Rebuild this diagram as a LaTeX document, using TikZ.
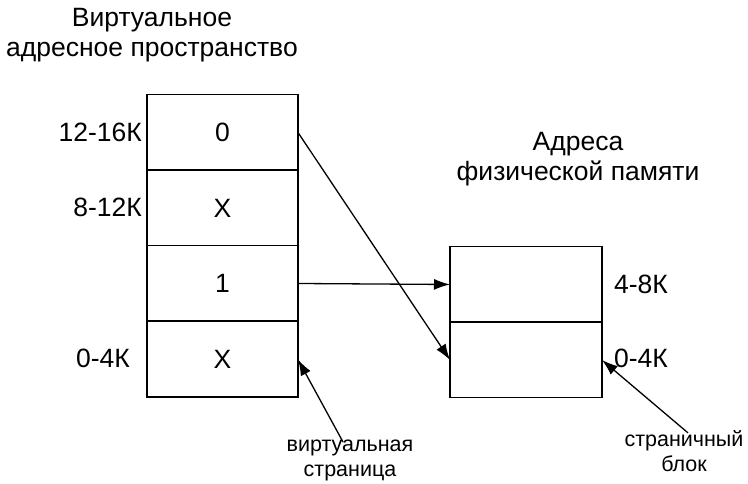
\documentclass[tikz,border=0pt]{standalone}
\usepackage{fontspec}
\setmainfont{Liberation Sans}
\usetikzlibrary{arrows.meta}

\begin{document}
\begin{tikzpicture}[x=1pt,y=1pt,>={Latex[length=16pt,width=11pt]},font=\fontsize{26.5}{30}\selectfont]
	\tikzstyle{cell}=[draw,line width=1.5pt,minimum width=151pt,minimum height=75.5pt,inner sep=0pt,outer sep=0pt]
	\tikzstyle{addr}=[anchor=east,inner sep=0pt]
	\tikzstyle{note}=[align=center,font=\fontsize{21.5}{25}\selectfont]
	\useasboundingbox (0,0) rectangle (748,484);

	% virtual pages
	\foreach \name/\y/\t in {v3/351.5/0, v2/276/X, v1/200.5/1, v0/124.5/X}
	\node[cell] (\name) at (222.5,\y) {\t};

	% physical blocks
	\foreach \name/\y in {p1/199.5, p0/124}
	\node[cell,minimum width=152pt] (\name) at (526,\y) {};

	\foreach \name/\x/\y/\t in {a3/142/352/12-16К, a2/142/277/8-12К, a0/130/126/0-4К, b1/668/200/4-8К, b0/668/126/0-4К}
	\node[addr] (\name) at (\x,\y) {\t};

	\node[align=center] (vtitle) at (152,449) {Виртуальное\\адресное пространство};
	\node[align=center] (ptitle) at (578,325) {Адреса\\физической памяти};
	\node[note] (vpage) at (350,24) {виртуальная\\страница};
	\node[note] (pblock) at (684,33) {страничный\\блок};

	\foreach \from/\to in {v3/p0,v1/p1}
	\draw[->,line width=1.3pt] (\from.east) -- (\to.west);

	\draw[->,line width=1.3pt] ([xshift=-7pt,yshift=-6pt]vpage.north) -- (v0.east);
	\draw[->,line width=1.3pt] ([xshift=4pt,yshift=-6pt]pblock.north) -- (p0.east);
\end{tikzpicture}
\end{document}
